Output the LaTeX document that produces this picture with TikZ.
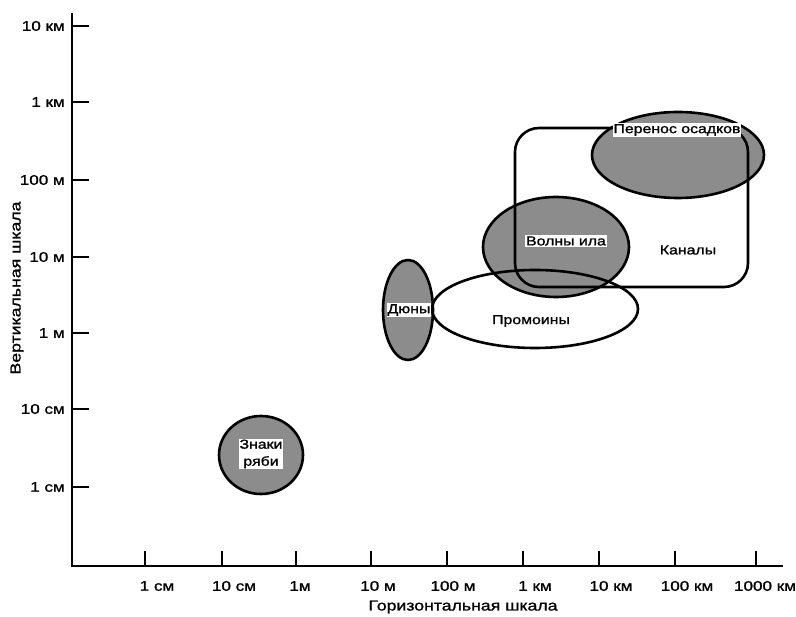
\documentclass[tikz,border=0pt]{standalone}
\usepackage{fontspec}
\setmainfont{Liberation Sans}[FakeStretch=1.22,FakeBold=1.2]
\usetikzlibrary{shapes.geometric}
\begin{document}
\begin{tikzpicture}[x=1pt,y=-1pt,
  axisline/.style={line width=1.8pt},
  tickline/.style={line width=1.3pt},
  ticklab/.style={font=\fontsize{14}{16}\selectfont, inner sep=0pt},
  axtitle/.style={font=\fontsize{14.5}{16}\selectfont, inner sep=0pt},
  shadefill/.style={ellipse, fill=black!45, draw=none, inner sep=0pt},
  outl/.style={line width=2.6pt},
  lab/.style={font=\fontsize{13}{15}\selectfont, inner sep=1pt, fill=white},
  plainlab/.style={font=\fontsize{13}{15}\selectfont, inner sep=1pt}
]
\useasboundingbox (0,0) rectangle (796,617);
% axes
\coordinate (top) at (72,13);
\coordinate (orig) at (72,566);
\coordinate (right) at (783,566);
\draw[axisline] (top) -- (orig) -- (right);
% y ticks
\foreach \y/\t in {26/10 км,102/1 км,180/100 м,257/10 м,333/1 м,409/10 см,487/1 см}{
  \draw[tickline] (72,\y) -- (89,\y);
  \node[ticklab, anchor=east] at (65,\y) {\t};
}
% x ticks
\foreach \x in {145,222,296,371,447,523,599,675,756}{
  \draw[tickline] (\x,566) -- (\x,551);
}
\foreach \x/\t in {157/1 см,234/10 см,300/1м,378/10 м,453/100 м,535/1 км,611/10 км,687/100 км,765/1000 км}{
  \node[ticklab] at (\x,586) {\t};
}
\node[axtitle] (xt) at (463,607) {Горизонтальная шкала};
\node[axtitle, rotate=90] (yt) at (17,288) {Вертикальная шкала};
% shaded fills
\node[shadefill, minimum width=172pt, minimum height=86pt] (perenos) at (678,155) {};
\node[shadefill, minimum width=146pt, minimum height=100pt] (volny) at (556,247) {};
\node[shadefill, minimum width=50pt, minimum height=100pt] (dyuny) at (408,310) {};
\node[shadefill, minimum width=84pt, minimum height=78pt] (znaki) at (261,455) {};
% outlines
\draw[outl] (perenos.center) ellipse [x radius=86, y radius=43];
\draw[outl] (volny.center) ellipse [x radius=73, y radius=50];
\draw[outl] (dyuny.center) ellipse [x radius=25, y radius=50];
\draw[outl] (znaki.center) ellipse [x radius=42, y radius=39];
\node[ellipse, draw, line width=2.6pt, minimum width=206pt, minimum height=78pt, inner sep=0pt] (promoiny) at (535,309) {};
\draw[outl, rounded corners=24pt] (515,128) rectangle (748,287);
% labels
\node[lab] (lperenos) at (677,130) {Перенос осадков};
\node[lab] (lvolny) at (566,241) {Волны ила};
\node[plainlab] (lkanaly) at (688,250) {Каналы};
\node[plainlab] (lpromoiny) at (531,321) {Промоины};
\node[lab] (ldyuny) at (409,310) {Дюны};
\node[lab, align=center, font=\fontsize{13}{17}\selectfont] (lznaki) at (261,454) {Знаки\\ряби};
\end{tikzpicture}
\end{document}
